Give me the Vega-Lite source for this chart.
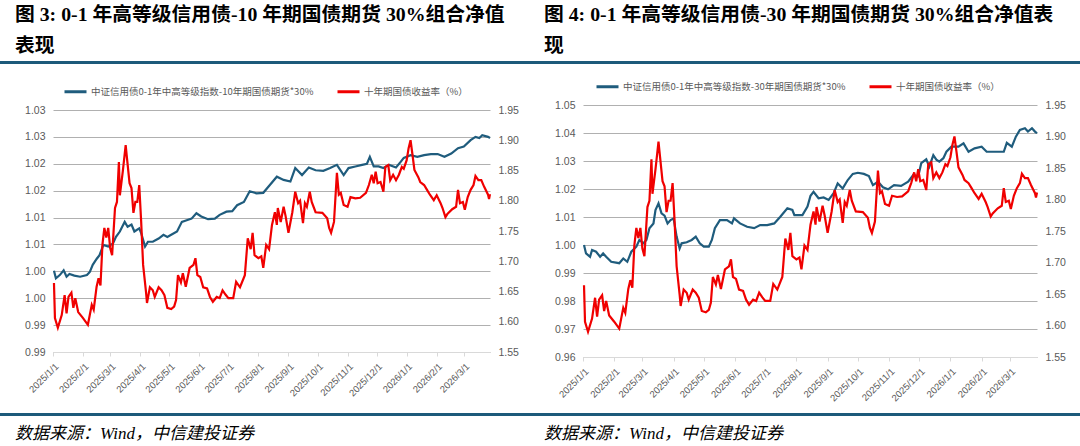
{
  "$schema": "https://vega.github.io/schema/vega-lite/v6.json",
  "background": "white",
  "padding": {"top": 4, "left": 0, "right": 0, "bottom": 0},
  "spacing": 5,
  "datasets": {
    "yld": [
      {"d": "2025-01-02", "v": 1.664}, {"d": "2025-01-03", "v": 1.606}, {"d": "2025-01-06", "v": 1.590}, {"d": "2025-01-10", "v": 1.611},
      {"d": "2025-01-13", "v": 1.644}, {"d": "2025-01-15", "v": 1.614}, {"d": "2025-01-17", "v": 1.641}, {"d": "2025-01-20", "v": 1.648},
      {"d": "2025-01-22", "v": 1.623}, {"d": "2025-01-24", "v": 1.639}, {"d": "2025-01-27", "v": 1.616}, {"d": "2025-02-01", "v": 1.606},
      {"d": "2025-02-06", "v": 1.595}, {"d": "2025-02-10", "v": 1.628}, {"d": "2025-02-12", "v": 1.620}, {"d": "2025-02-15", "v": 1.658},
      {"d": "2025-02-17", "v": 1.672}, {"d": "2025-02-19", "v": 1.660}, {"d": "2025-02-21", "v": 1.727}, {"d": "2025-02-23", "v": 1.755},
      {"d": "2025-02-25", "v": 1.739}, {"d": "2025-02-27", "v": 1.755}, {"d": "2025-03-01", "v": 1.722}, {"d": "2025-03-03", "v": 1.710},
      {"d": "2025-03-06", "v": 1.788}, {"d": "2025-03-08", "v": 1.798}, {"d": "2025-03-10", "v": 1.864}, {"d": "2025-03-11", "v": 1.809},
      {"d": "2025-03-14", "v": 1.848}, {"d": "2025-03-17", "v": 1.892}, {"d": "2025-03-18", "v": 1.876}, {"d": "2025-03-21", "v": 1.829},
      {"d": "2025-03-23", "v": 1.821}, {"d": "2025-03-25", "v": 1.780}, {"d": "2025-03-27", "v": 1.798}, {"d": "2025-03-29", "v": 1.798},
      {"d": "2025-03-31", "v": 1.826}, {"d": "2025-04-02", "v": 1.765}, {"d": "2025-04-04", "v": 1.694}, {"d": "2025-04-07", "v": 1.649},
      {"d": "2025-04-08", "v": 1.631}, {"d": "2025-04-11", "v": 1.657}, {"d": "2025-04-14", "v": 1.652}, {"d": "2025-04-16", "v": 1.641},
      {"d": "2025-04-20", "v": 1.657}, {"d": "2025-04-23", "v": 1.652}, {"d": "2025-04-26", "v": 1.644}, {"d": "2025-04-29", "v": 1.623},
      {"d": "2025-05-03", "v": 1.621}, {"d": "2025-05-06", "v": 1.625}, {"d": "2025-05-08", "v": 1.636}, {"d": "2025-05-10", "v": 1.677},
      {"d": "2025-05-13", "v": 1.665}, {"d": "2025-05-15", "v": 1.680}, {"d": "2025-05-18", "v": 1.658}, {"d": "2025-05-22", "v": 1.689},
      {"d": "2025-05-26", "v": 1.694}, {"d": "2025-05-28", "v": 1.705}, {"d": "2025-05-30", "v": 1.677}, {"d": "2025-06-02", "v": 1.674},
      {"d": "2025-06-05", "v": 1.657}, {"d": "2025-06-09", "v": 1.655}, {"d": "2025-06-12", "v": 1.641}, {"d": "2025-06-15", "v": 1.633},
      {"d": "2025-06-19", "v": 1.641}, {"d": "2025-06-22", "v": 1.639}, {"d": "2025-06-25", "v": 1.652}, {"d": "2025-06-28", "v": 1.645},
      {"d": "2025-07-01", "v": 1.639}, {"d": "2025-07-06", "v": 1.639}, {"d": "2025-07-09", "v": 1.666}, {"d": "2025-07-13", "v": 1.657},
      {"d": "2025-07-18", "v": 1.677}, {"d": "2025-07-21", "v": 1.738}, {"d": "2025-07-24", "v": 1.720}, {"d": "2025-07-26", "v": 1.747},
      {"d": "2025-07-28", "v": 1.710}, {"d": "2025-08-01", "v": 1.705}, {"d": "2025-08-04", "v": 1.708}, {"d": "2025-08-06", "v": 1.689},
      {"d": "2025-08-09", "v": 1.727}, {"d": "2025-08-12", "v": 1.720}, {"d": "2025-08-15", "v": 1.760}, {"d": "2025-08-18", "v": 1.781},
      {"d": "2025-08-20", "v": 1.760}, {"d": "2025-08-21", "v": 1.788}, {"d": "2025-08-24", "v": 1.765}, {"d": "2025-08-27", "v": 1.790},
      {"d": "2025-08-29", "v": 1.775}, {"d": "2025-09-01", "v": 1.747}, {"d": "2025-09-05", "v": 1.781}, {"d": "2025-09-08", "v": 1.815},
      {"d": "2025-09-11", "v": 1.796}, {"d": "2025-09-13", "v": 1.800}, {"d": "2025-09-16", "v": 1.763}, {"d": "2025-09-18", "v": 1.796},
      {"d": "2025-09-20", "v": 1.790}, {"d": "2025-09-23", "v": 1.815}, {"d": "2025-09-25", "v": 1.798}, {"d": "2025-09-29", "v": 1.781},
      {"d": "2025-10-06", "v": 1.780}, {"d": "2025-10-11", "v": 1.771}, {"d": "2025-10-13", "v": 1.755}, {"d": "2025-10-15", "v": 1.747},
      {"d": "2025-10-18", "v": 1.765}, {"d": "2025-10-21", "v": 1.846}, {"d": "2025-10-23", "v": 1.810}, {"d": "2025-10-25", "v": 1.813},
      {"d": "2025-10-28", "v": 1.793}, {"d": "2025-11-01", "v": 1.790}, {"d": "2025-11-04", "v": 1.806}, {"d": "2025-11-09", "v": 1.804},
      {"d": "2025-11-14", "v": 1.805}, {"d": "2025-11-20", "v": 1.813}, {"d": "2025-11-23", "v": 1.826}, {"d": "2025-11-26", "v": 1.843},
      {"d": "2025-11-28", "v": 1.829}, {"d": "2025-11-30", "v": 1.848}, {"d": "2025-12-02", "v": 1.829}, {"d": "2025-12-05", "v": 1.831},
      {"d": "2025-12-08", "v": 1.815}, {"d": "2025-12-10", "v": 1.856}, {"d": "2025-12-13", "v": 1.859}, {"d": "2025-12-15", "v": 1.834},
      {"d": "2025-12-18", "v": 1.843}, {"d": "2025-12-21", "v": 1.834}, {"d": "2025-12-24", "v": 1.843}, {"d": "2025-12-27", "v": 1.856},
      {"d": "2025-12-29", "v": 1.853}, {"d": "2026-01-01", "v": 1.867}, {"d": "2026-01-03", "v": 1.887}, {"d": "2026-01-05", "v": 1.900},
      {"d": "2026-01-07", "v": 1.876}, {"d": "2026-01-09", "v": 1.851}, {"d": "2026-01-13", "v": 1.839}, {"d": "2026-01-15", "v": 1.831},
      {"d": "2026-01-19", "v": 1.826}, {"d": "2026-01-22", "v": 1.818}, {"d": "2026-01-25", "v": 1.810}, {"d": "2026-01-29", "v": 1.801},
      {"d": "2026-02-01", "v": 1.809}, {"d": "2026-02-05", "v": 1.796}, {"d": "2026-02-07", "v": 1.788}, {"d": "2026-02-10", "v": 1.773},
      {"d": "2026-02-12", "v": 1.778}, {"d": "2026-02-17", "v": 1.786}, {"d": "2026-02-21", "v": 1.790}, {"d": "2026-02-23", "v": 1.818},
      {"d": "2026-02-25", "v": 1.796}, {"d": "2026-02-28", "v": 1.798}, {"d": "2026-03-02", "v": 1.785}, {"d": "2026-03-05", "v": 1.806},
      {"d": "2026-03-08", "v": 1.818}, {"d": "2026-03-11", "v": 1.826}, {"d": "2026-03-13", "v": 1.841}, {"d": "2026-03-16", "v": 1.834},
      {"d": "2026-03-19", "v": 1.834}, {"d": "2026-03-22", "v": 1.823}, {"d": "2026-03-26", "v": 1.810}, {"d": "2026-03-27", "v": 1.803},
      {"d": "2026-03-28", "v": 1.811}
    ],
    "b10": [
      {"d": "2025-01-02", "v": 1.0001}, {"d": "2025-01-04", "v": 0.9987}, {"d": "2025-01-08", "v": 0.9993}, {"d": "2025-01-12", "v": 1.0002},
      {"d": "2025-01-15", "v": 0.9990}, {"d": "2025-01-18", "v": 0.9995}, {"d": "2025-01-23", "v": 0.9992}, {"d": "2025-01-29", "v": 0.9990},
      {"d": "2025-02-05", "v": 0.9993}, {"d": "2025-02-08", "v": 0.9999}, {"d": "2025-02-11", "v": 1.0012}, {"d": "2025-02-15", "v": 1.0023},
      {"d": "2025-02-18", "v": 1.0030}, {"d": "2025-02-22", "v": 1.0049}, {"d": "2025-02-27", "v": 1.0046}, {"d": "2025-03-04", "v": 1.0052},
      {"d": "2025-03-07", "v": 1.0064}, {"d": "2025-03-11", "v": 1.0074}, {"d": "2025-03-16", "v": 1.0092}, {"d": "2025-03-19", "v": 1.0083},
      {"d": "2025-03-23", "v": 1.0087}, {"d": "2025-03-26", "v": 1.0074}, {"d": "2025-03-31", "v": 1.0080}, {"d": "2025-04-02", "v": 1.0071},
      {"d": "2025-04-06", "v": 1.0046}, {"d": "2025-04-09", "v": 1.0055}, {"d": "2025-04-14", "v": 1.0055}, {"d": "2025-04-20", "v": 1.0061},
      {"d": "2025-04-25", "v": 1.0068}, {"d": "2025-04-29", "v": 1.0064}, {"d": "2025-05-03", "v": 1.0068}, {"d": "2025-05-09", "v": 1.0074},
      {"d": "2025-05-14", "v": 1.0092}, {"d": "2025-05-19", "v": 1.0095}, {"d": "2025-05-24", "v": 1.0098}, {"d": "2025-05-29", "v": 1.0108},
      {"d": "2025-06-03", "v": 1.0102}, {"d": "2025-06-10", "v": 1.0097}, {"d": "2025-06-17", "v": 1.0098}, {"d": "2025-06-22", "v": 1.0105},
      {"d": "2025-06-29", "v": 1.0111}, {"d": "2025-07-05", "v": 1.0112}, {"d": "2025-07-10", "v": 1.0123}, {"d": "2025-07-17", "v": 1.0129},
      {"d": "2025-07-23", "v": 1.0149}, {"d": "2025-07-30", "v": 1.0145}, {"d": "2025-08-06", "v": 1.0146}, {"d": "2025-08-13", "v": 1.0161},
      {"d": "2025-08-20", "v": 1.0176}, {"d": "2025-08-27", "v": 1.0170}, {"d": "2025-09-03", "v": 1.0167}, {"d": "2025-09-08", "v": 1.0192},
      {"d": "2025-09-15", "v": 1.0179}, {"d": "2025-09-22", "v": 1.0193}, {"d": "2025-09-29", "v": 1.0188}, {"d": "2025-10-07", "v": 1.0187},
      {"d": "2025-10-14", "v": 1.0192}, {"d": "2025-10-21", "v": 1.0198}, {"d": "2025-10-28", "v": 1.0179}, {"d": "2025-11-02", "v": 1.0192},
      {"d": "2025-11-09", "v": 1.0195}, {"d": "2025-11-16", "v": 1.0198}, {"d": "2025-11-21", "v": 1.0200}, {"d": "2025-11-24", "v": 1.0213},
      {"d": "2025-11-28", "v": 1.0195}, {"d": "2025-12-03", "v": 1.0195}, {"d": "2025-12-08", "v": 1.0192}, {"d": "2025-12-14", "v": 1.0198},
      {"d": "2025-12-21", "v": 1.0193}, {"d": "2025-12-26", "v": 1.0204}, {"d": "2025-12-29", "v": 1.0211}, {"d": "2026-01-05", "v": 1.0216},
      {"d": "2026-01-12", "v": 1.0213}, {"d": "2026-01-19", "v": 1.0216}, {"d": "2026-01-26", "v": 1.0218}, {"d": "2026-02-02", "v": 1.0218},
      {"d": "2026-02-09", "v": 1.0213}, {"d": "2026-02-16", "v": 1.0219}, {"d": "2026-02-23", "v": 1.0229}, {"d": "2026-03-01", "v": 1.0232},
      {"d": "2026-03-08", "v": 1.0244}, {"d": "2026-03-13", "v": 1.0250}, {"d": "2026-03-17", "v": 1.0248}, {"d": "2026-03-20", "v": 1.0253},
      {"d": "2026-03-26", "v": 1.0250}, {"d": "2026-03-28", "v": 1.0248}
    ],
    "b30": [
      {"d": "2025-01-02", "v": 1.0000}, {"d": "2025-01-04", "v": 0.9970}, {"d": "2025-01-08", "v": 0.9958}, {"d": "2025-01-10", "v": 0.9982},
      {"d": "2025-01-14", "v": 0.9976}, {"d": "2025-01-18", "v": 0.9958}, {"d": "2025-01-21", "v": 0.9970}, {"d": "2025-01-24", "v": 0.9958},
      {"d": "2025-01-29", "v": 0.9940}, {"d": "2025-02-06", "v": 0.9935}, {"d": "2025-02-10", "v": 0.9952}, {"d": "2025-02-14", "v": 0.9940},
      {"d": "2025-02-18", "v": 0.9976}, {"d": "2025-02-23", "v": 0.9994}, {"d": "2025-02-26", "v": 1.0018}, {"d": "2025-03-02", "v": 1.0006},
      {"d": "2025-03-05", "v": 1.0018}, {"d": "2025-03-08", "v": 1.0060}, {"d": "2025-03-12", "v": 1.0077}, {"d": "2025-03-14", "v": 1.0125},
      {"d": "2025-03-17", "v": 1.0149}, {"d": "2025-03-20", "v": 1.0113}, {"d": "2025-03-23", "v": 1.0105}, {"d": "2025-03-26", "v": 1.0077},
      {"d": "2025-03-29", "v": 1.0089}, {"d": "2025-04-01", "v": 1.0095}, {"d": "2025-04-04", "v": 1.0030}, {"d": "2025-04-07", "v": 0.9988},
      {"d": "2025-04-09", "v": 1.0006}, {"d": "2025-04-14", "v": 1.0010}, {"d": "2025-04-19", "v": 1.0018}, {"d": "2025-04-23", "v": 1.0030},
      {"d": "2025-04-27", "v": 1.0006}, {"d": "2025-05-01", "v": 0.9994}, {"d": "2025-05-06", "v": 0.9994}, {"d": "2025-05-09", "v": 1.0018},
      {"d": "2025-05-12", "v": 1.0060}, {"d": "2025-05-17", "v": 1.0089}, {"d": "2025-05-24", "v": 1.0089}, {"d": "2025-05-29", "v": 1.0077},
      {"d": "2025-05-31", "v": 1.0095}, {"d": "2025-06-06", "v": 1.0077}, {"d": "2025-06-13", "v": 1.0065}, {"d": "2025-06-20", "v": 1.0060},
      {"d": "2025-06-26", "v": 1.0071}, {"d": "2025-07-03", "v": 1.0071}, {"d": "2025-07-10", "v": 1.0077}, {"d": "2025-07-16", "v": 1.0101},
      {"d": "2025-07-23", "v": 1.0131}, {"d": "2025-07-28", "v": 1.0125}, {"d": "2025-07-30", "v": 1.0107}, {"d": "2025-08-07", "v": 1.0107},
      {"d": "2025-08-12", "v": 1.0137}, {"d": "2025-08-15", "v": 1.0176}, {"d": "2025-08-18", "v": 1.0190}, {"d": "2025-08-23", "v": 1.0167},
      {"d": "2025-08-28", "v": 1.0170}, {"d": "2025-09-02", "v": 1.0161}, {"d": "2025-09-07", "v": 1.0185}, {"d": "2025-09-11", "v": 1.0220},
      {"d": "2025-09-16", "v": 1.0202}, {"d": "2025-09-21", "v": 1.0232}, {"d": "2025-09-26", "v": 1.0254}, {"d": "2025-10-01", "v": 1.0258},
      {"d": "2025-10-07", "v": 1.0254}, {"d": "2025-10-12", "v": 1.0246}, {"d": "2025-10-16", "v": 1.0214}, {"d": "2025-10-21", "v": 1.0226},
      {"d": "2025-10-26", "v": 1.0206}, {"d": "2025-10-31", "v": 1.0199}, {"d": "2025-11-06", "v": 1.0214}, {"d": "2025-11-13", "v": 1.0211},
      {"d": "2025-11-20", "v": 1.0226}, {"d": "2025-11-25", "v": 1.0250}, {"d": "2025-11-30", "v": 1.0245}, {"d": "2025-12-03", "v": 1.0292},
      {"d": "2025-12-08", "v": 1.0306}, {"d": "2025-12-11", "v": 1.0280}, {"d": "2025-12-15", "v": 1.0321}, {"d": "2025-12-18", "v": 1.0305},
      {"d": "2025-12-21", "v": 1.0298}, {"d": "2025-12-25", "v": 1.0310}, {"d": "2025-12-28", "v": 1.0333}, {"d": "2026-01-02", "v": 1.0351},
      {"d": "2026-01-09", "v": 1.0351}, {"d": "2026-01-14", "v": 1.0363}, {"d": "2026-01-19", "v": 1.0333}, {"d": "2026-01-25", "v": 1.0345},
      {"d": "2026-02-01", "v": 1.0351}, {"d": "2026-02-06", "v": 1.0333}, {"d": "2026-02-13", "v": 1.0333}, {"d": "2026-02-23", "v": 1.0333},
      {"d": "2026-02-26", "v": 1.0365}, {"d": "2026-03-03", "v": 1.0351}, {"d": "2026-03-07", "v": 1.0387}, {"d": "2026-03-11", "v": 1.0411},
      {"d": "2026-03-16", "v": 1.0417}, {"d": "2026-03-19", "v": 1.0405}, {"d": "2026-03-23", "v": 1.0417}, {"d": "2026-03-26", "v": 1.0405},
      {"d": "2026-03-28", "v": 1.0399}
    ]
  },
  "vconcat": [
    {
      "spacing": 0,
      "hconcat": [
        {
          "title": {"text": ["图 3: 0-1 年高等级信用债-10 年期国债期货 30%组合净值", "表现"], "dx": 15, "offset": 1},
          "width": 540, "height": 3,
          "view": {"fill": "#1d5a7a", "stroke": null},
          "data": {"values": [{}]},
          "mark": "text",
          "encoding": {"text": {"value": ""}}
        },
        {
          "title": {"text": ["图 4: 0-1 年高等级信用债-30 年期国债期货 30%组合净值表", "现"], "dx": 4, "offset": 1},
          "width": 540, "height": 3,
          "view": {"fill": "#1d5a7a", "stroke": null},
          "data": {"values": [{}]},
          "mark": "text",
          "encoding": {"text": {"value": ""}}
        }
      ]
    },
    {
      "spacing": 0,
      "resolve": {"scale": {"color": "independent", "x": "independent"}, "legend": {"color": "independent"}},
      "hconcat": [
        {
          "width": 540, "height": 252,
          "layer": [
            {
              "data": {"name": "b10"},
              "mark": {"type": "line", "strokeWidth": 2.2},
              "encoding": {
                "x": {
                  "field": "d", "type": "temporal",
                  "scale": {"type": "utc", "range": [53, 490], "domain": [{"year": 2025, "month": 1, "date": 1, "utc": true}, {"year": 2026, "month": 3, "date": 28, "utc": true}]},
                  "axis": {"offset": -5, "tickCount": {"interval": "month", "step": 1}, "format": "%Y/%-m/%-d", "labelAngle": -45, "grid": false, "title": null}
                },
                "y": {
                  "field": "v", "type": "quantitative",
                  "scale": {"domain": [0.985, 1.03], "range": [247, 5], "nice": false, "zero": false},
                  "axis": {"orient": "left", "offset": -53, "values": [0.985, 0.99, 0.995, 1.0, 1.005, 1.01, 1.015, 1.02, 1.025, 1.03], "labelExpr": "format(round(datum.value * 100 + 0.0001) / 100, '.2f')", "grid": true, "title": null}
                },
                "color": {
                  "datum": "中证信用债0-1年中高等级指数-10年期国债期货*30%",
                  "scale": {"domain": ["中证信用债0-1年中高等级指数-10年期国债期货*30%", "十年期国债收益率（%）"], "range": ["#1f5c7d", "#f00000"]},
                  "legend": {"orient": "none", "legendX": 62, "legendY": -27, "padding": 1}
                }
              }
            },
            {
              "data": {"name": "yld"},
              "mark": {"type": "line", "strokeWidth": 2.2},
              "encoding": {
                "x": {"field": "d", "type": "temporal"},
                "y": {
                  "field": "v", "type": "quantitative",
                  "scale": {"domain": [1.55, 1.95], "range": [247, 5], "nice": false, "zero": false},
                  "axis": {"orient": "right", "offset": -50, "values": [1.55, 1.6, 1.65, 1.7, 1.75, 1.8, 1.85, 1.9, 1.95], "format": ".2f", "grid": false, "title": null}
                },
                "color": {"datum": "十年期国债收益率（%）"}
              }
            }
          ],
          "resolve": {"scale": {"y": "independent"}}
        },
        {
          "width": 540, "height": 252,
          "layer": [
            {
              "data": {"name": "b30"},
              "mark": {"type": "line", "strokeWidth": 2.2},
              "encoding": {
                "x": {
                  "field": "d", "type": "temporal",
                  "scale": {"type": "utc", "range": [43, 497], "domain": [{"year": 2025, "month": 1, "date": 1, "utc": true}, {"year": 2026, "month": 3, "date": 28, "utc": true}]},
                  "axis": {"tickCount": {"interval": "month", "step": 1}, "format": "%Y/%-m/%-d", "labelAngle": -45, "grid": false, "title": null}
                },
                "y": {
                  "field": "v", "type": "quantitative",
                  "scale": {"domain": [0.96, 1.05], "nice": false, "zero": false},
                  "axis": {"orient": "left", "offset": -43, "values": [0.96, 0.97, 0.98, 0.99, 1.0, 1.01, 1.02, 1.03, 1.04, 1.05], "format": ".2f", "grid": true, "title": null}
                },
                "color": {
                  "datum": "中证信用债0-1年中高等级指数-30年期国债期货*30%",
                  "scale": {"domain": ["中证信用债0-1年中高等级指数-30年期国债期货*30%", "十年期国债收益率（%）"], "range": ["#1f5c7d", "#f00000"]},
                  "legend": {"orient": "none", "legendX": 54, "legendY": -32, "padding": 1}
                }
              }
            },
            {
              "data": {"name": "yld"},
              "mark": {"type": "line", "strokeWidth": 2.2},
              "encoding": {
                "x": {"field": "d", "type": "temporal"},
                "y": {
                  "field": "v", "type": "quantitative",
                  "scale": {"domain": [1.55, 1.95], "nice": false, "zero": false},
                  "axis": {"orient": "right", "offset": -43, "values": [1.55, 1.6, 1.65, 1.7, 1.75, 1.8, 1.85, 1.9, 1.95], "format": ".2f", "grid": false, "title": null}
                },
                "color": {"datum": "十年期国债收益率（%）"}
              }
            }
          ],
          "resolve": {"scale": {"y": "independent"}}
        }
      ]
    },
    {
      "spacing": 0,
      "hconcat": [
        {
          "title": {"text": "数据来源：Wind，中信建投证券", "orient": "bottom", "dx": 15, "offset": 6, "fontStyle": "italic", "fontWeight": "normal", "fontSize": 17},
          "width": 540, "height": 3,
          "view": {"fill": "#1d5a7a", "stroke": null},
          "data": {"values": [{}]},
          "mark": "text",
          "encoding": {"text": {"value": ""}}
        },
        {
          "title": {"text": "数据来源：Wind，中信建投证券", "orient": "bottom", "dx": 4, "offset": 6, "fontStyle": "italic", "fontWeight": "normal", "fontSize": 17},
          "width": 540, "height": 3,
          "view": {"fill": "#1d5a7a", "stroke": null},
          "data": {"values": [{}]},
          "mark": "text",
          "encoding": {"text": {"value": ""}}
        }
      ]
    }
  ],
  "config": {
    "view": {"stroke": null},
    "title": {"font": "Liberation Serif, Noto Sans CJK SC", "fontSize": 19.8, "fontWeight": "bold", "anchor": "start", "color": "#000000", "lineHeight": 31},
    "axis": {"labelFont": "Liberation Sans", "labelFontSize": 10.5, "labelColor": "#595959", "gridColor": "#b0b0b0", "gridWidth": 1, "labelPadding": 8, "minExtent": 0},
    "axisY": {"domain": false, "ticks": false},
    "axisX": {"domainColor": "#d9d9d9", "tickColor": "#d9d9d9", "tickSize": 4, "labelPadding": 5, "labelFontSize": 9.5, "labelOverlap": false, "labelFlush": false},
    "legend": {"direction": "horizontal", "symbolType": "stroke", "symbolSize": 484, "symbolStrokeWidth": 3, "labelFont": "Noto Sans CJK SC", "labelFontSize": 9.5, "labelColor": "#595959", "labelLimit": 400, "labelOffset": 3, "columnPadding": 17, "title": null}
  }
}
